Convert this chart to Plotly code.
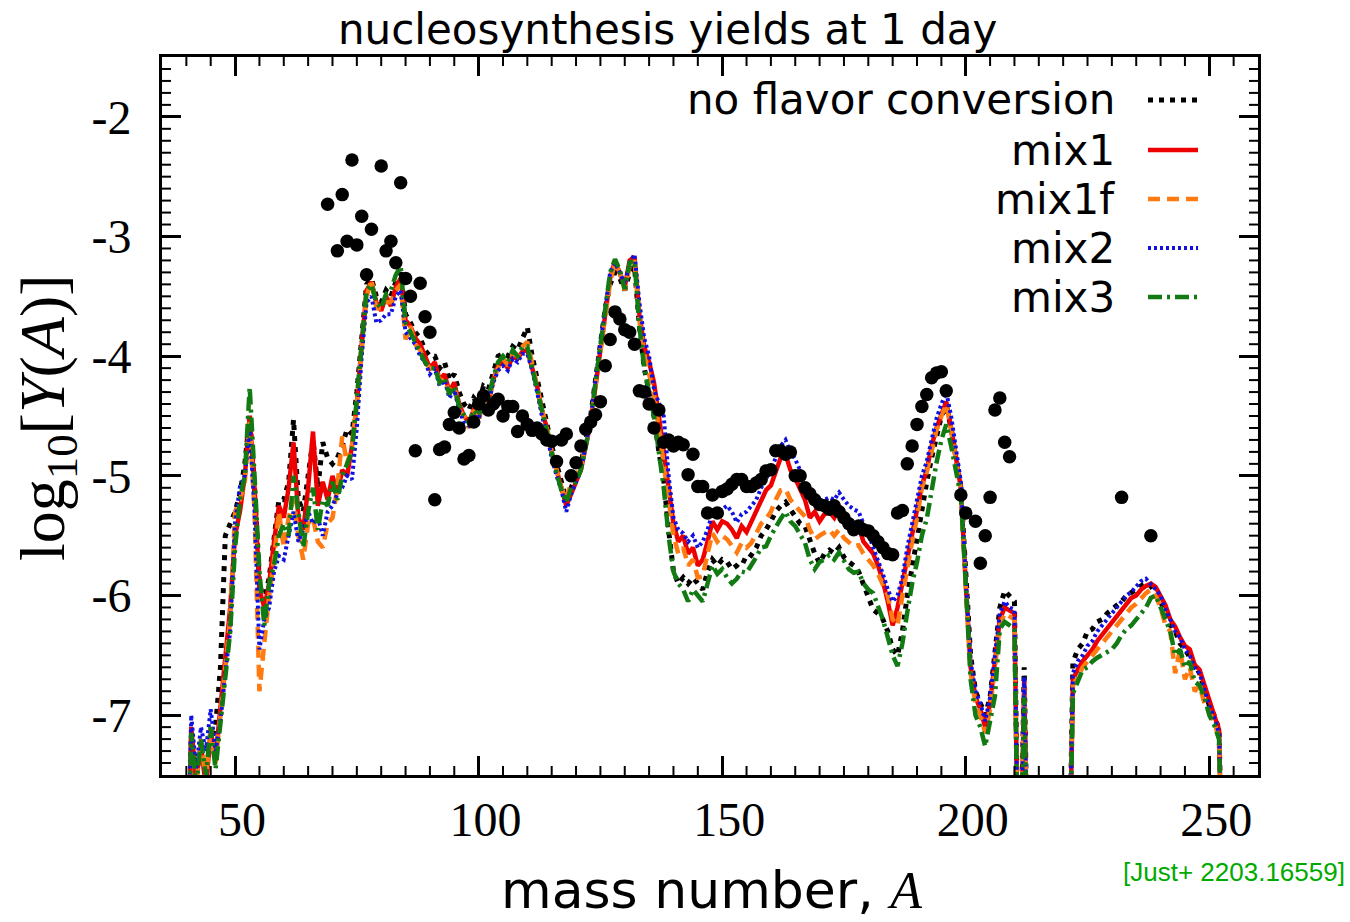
import plotly.graph_objects as go

# ---------------- data ----------------
mass_numbers = list(range(40, 254))

# log10 Y(A); None = gap; -9.0 = off the bottom of the plot
no_flavor = [
    -9.0, -7.2, -7.5, -7.3, -7.5, -7.2, -7.1, -6.6, -5.5, -5.4,
    -5.3, -5.15, -4.9, -4.5, -5.1, -5.9, -6.05, -5.85, -5.5, -5.2,
    -5.2, -5.05, -4.53, -5.2, -5.3, -5.0, -4.7, -5.1, -4.72, -4.85,
    -4.9, -4.85, -4.75, -4.61, -4.65, -4.3, -3.85, -3.4, -3.35, -3.5,
    -3.55, -3.45, -3.5, -3.38, -3.3, -3.65, -3.72, -3.8, -3.85, -3.95,
    -4.0, -4.0, -4.1, -4.05, -4.2, -4.15, -4.3, -4.4, -4.45, -4.35,
    -4.4, -4.25, -4.28, -4.12, -4.0, -3.98, -4.0, -3.92, -3.95, -3.85,
    -3.76, -4.0, -4.2, -4.4, -4.55, -4.75, -4.9, -5.05, -5.2, -5.1,
    -5.0, -4.9, -4.7, -4.5, -4.2, -3.92, -3.6, -3.4, -3.3, -3.35,
    -3.45, -3.3, -3.25, -3.75, -4.1, -4.3, -4.5, -4.8, -5.03, -5.45,
    -5.8, -5.9, -5.85, -5.9, -5.85, -5.9, -5.95, -5.8, -5.7, -5.75,
    -5.7, -5.72, -5.78, -5.75, -5.7, -5.72, -5.65, -5.6, -5.5, -5.45,
    -5.38, -5.3, -5.25, -5.22, -5.28, -5.35, -5.4, -5.42, -5.55, -5.65,
    -5.73, -5.65, -5.62, -5.65, -5.6, -5.68, -5.72, -5.75, -5.8, -5.9,
    -6.0, -6.12, -6.15, -6.2, -6.3, -6.45, -6.5, -6.3, -6.0, -5.75,
    -5.5, -5.25, -5.05, -4.85, -4.65, -4.5, -4.42, -4.6, -4.85, -5.1,
    -5.8, -6.5, -6.8, -6.9, -7.0, -6.85, -6.45, -6.1, -5.96, -6.0,
    -6.05, -9.0, -6.6, -9.0, None, None, None, None, None, None,
    None, -9.0, -6.56, -6.45, -6.4, -6.3, -6.28, -6.22, -6.2, -6.15,
    -6.12, -6.08, -6.05, -6.0, -5.98, -5.95, -5.92, -5.9, -5.92, -5.98,
    -6.05, -6.15, -6.25, -6.3, -6.4, -6.45, -6.52, -6.6, -6.65, -6.78,
    -6.92, -7.0, -7.12, -9.0,
]

mix1 = [
    -9.0, -7.1, -7.55, -7.25, -7.6, -7.15, -7.35, -6.9, -6.5, -6.1,
    -5.5, -5.3, -5.0, -4.5, -5.1, -5.95, -6.1, -5.9, -5.55, -5.25,
    -5.35, -5.1, -4.72, -5.35, -5.45, -5.1, -4.63, -5.25, -5.05, -5.2,
    -5.0, -5.15, -4.95, -5.0, -4.75, -4.4, -3.9, -3.45, -3.38, -3.55,
    -3.62, -3.5, -3.58, -3.42, -3.35, -3.7, -3.75, -3.85, -3.9, -4.0,
    -4.1, -4.05, -4.2, -4.15, -4.3, -4.22, -4.4, -4.5, -4.55, -4.45,
    -4.5, -4.35, -4.38, -4.2, -4.08, -4.05, -4.1, -4.0, -4.02, -3.96,
    -3.95, -4.1, -4.25, -4.45, -4.6, -4.8, -4.95, -5.1, -5.25, -5.15,
    -5.05, -4.95, -4.75, -4.55, -4.25, -3.95, -3.6, -3.35, -3.2, -3.3,
    -3.42, -3.2, -3.17, -3.65, -3.92, -4.05, -4.22, -4.5, -4.8, -5.05,
    -5.4, -5.55, -5.5, -5.65, -5.6, -5.75, -5.7, -5.55, -5.38, -5.45,
    -5.38, -5.4, -5.45, -5.52, -5.42, -5.47, -5.38, -5.3, -5.22, -5.12,
    -5.08, -4.95, -4.85, -4.82, -4.95, -5.02, -5.1, -5.2, -5.35, -5.3,
    -5.38, -5.32, -5.3, -5.35, -5.25, -5.38, -5.4, -5.45, -5.42, -5.55,
    -5.6, -5.65, -5.75, -5.88, -6.05, -6.25, -6.1, -5.9, -5.7, -5.5,
    -5.3, -5.08, -4.95, -4.75, -4.6, -4.48, -4.38, -4.6, -4.85, -5.1,
    -5.9, -6.6, -6.85, -6.95, -7.1, -6.9, -6.55, -6.2, -6.1, -6.12,
    -6.15, -9.0, -6.7, -9.0, None, None, None, None, None, None,
    None, -9.0, -6.7, -6.62, -6.55, -6.5, -6.45, -6.38, -6.33, -6.28,
    -6.22, -6.18, -6.12, -6.08, -6.02, -6.0, -5.95, -5.92, -5.9, -5.93,
    -6.0, -6.08, -6.2, -6.26, -6.35, -6.42, -6.45, -6.58, -6.62, -6.75,
    -6.9, -7.0, -7.12, -9.0,
]

mix1f = [
    -9.0, -7.3, -7.6, -7.2, -7.55, -7.1, -7.4, -7.0, -6.6, -6.2,
    -5.3, -5.2, -5.05, -4.55, -5.3, -6.8, -6.4, -6.0, -5.7, -5.3,
    -5.6, -5.35, -5.2, -5.5, -5.7, -5.4, -5.35, -5.55, -5.6, -5.4,
    -5.35, -5.1, -4.67, -4.9, -4.75, -4.4, -3.95, -3.5, -3.36, -3.6,
    -3.6, -3.55, -3.55, -3.45, -3.4, -3.86, -3.75, -3.9, -3.95, -4.05,
    -4.1, -4.1, -4.2, -4.2, -4.3, -4.25, -4.45, -4.5, -4.6, -4.45,
    -4.55, -4.35, -4.4, -4.2, -4.1, -4.02, -4.08, -3.98, -4.0, -3.92,
    -3.88, -4.05, -4.25, -4.45, -4.6, -4.8, -4.95, -5.1, -5.2, -5.05,
    -5.0, -4.92, -4.75, -4.55, -4.25, -3.95, -3.62, -3.38, -3.22, -3.3,
    -3.45, -3.25, -3.2, -3.7, -3.98, -4.15, -4.32, -4.6, -4.9, -5.15,
    -5.5, -5.65, -5.6, -5.75, -5.7, -5.85, -5.84, -5.65, -5.48, -5.55,
    -5.5, -5.53, -5.58, -5.64, -5.56, -5.6, -5.56, -5.48, -5.4, -5.36,
    -5.3, -5.2, -5.12, -5.11, -5.2, -5.25, -5.3, -5.34, -5.45, -5.53,
    -5.5, -5.48, -5.45, -5.5, -5.45, -5.52, -5.55, -5.59, -5.58, -5.65,
    -5.7, -5.75, -5.82, -5.92, -6.0, -6.2, -6.25, -6.0, -5.75, -5.55,
    -5.35, -5.1, -4.97, -4.78, -4.62, -4.5, -4.4, -4.62, -4.88, -5.12,
    -5.92, -6.65, -6.9, -7.0, -7.15, -6.95, -6.6, -6.25, -6.15, -6.18,
    -6.2, -9.0, -6.75, -9.0, None, None, None, None, None, None,
    None, -9.0, -6.75, -6.68, -6.6, -6.55, -6.5, -6.45, -6.4, -6.35,
    -6.3, -6.25, -6.2, -6.15, -6.1, -6.07, -6.02, -5.98, -5.95, -6.0,
    -6.1, -6.25, -6.3, -6.65, -6.45, -6.7, -6.6, -6.8, -6.75, -6.9,
    -6.98, -7.05, -7.2, -9.0,
]

mix2 = [
    -9.0, -7.0, -7.45, -7.1, -7.3, -6.95, -7.3, -7.05, -6.65, -6.3,
    -5.39, -5.09, -5.0, -4.6, -5.3, -6.45, -6.2, -6.1, -5.8, -5.67,
    -5.7, -5.5, -5.3, -5.55, -5.45, -5.3, -5.4, -5.35, -5.5, -5.3,
    -5.25, -5.15, -5.1, -5.0, -5.03, -4.6, -4.0, -3.55, -3.5, -3.72,
    -3.7, -3.65, -3.65, -3.5, -3.45, -3.8, -3.85, -3.9, -4.0, -4.05,
    -4.15, -4.1, -4.25, -4.2, -4.35, -4.28, -4.45, -4.55, -4.58, -4.5,
    -4.52, -4.4, -4.4, -4.22, -4.12, -4.08, -4.12, -4.02, -4.05, -3.98,
    -3.98, -4.12, -4.3, -4.5, -4.65, -4.85, -5.0, -5.12, -5.3, -5.15,
    -5.05, -4.95, -4.75, -4.52, -4.2, -3.9, -3.55, -3.3, -3.22, -3.3,
    -3.4, -3.22, -3.15, -3.55, -3.85, -4.0, -4.28, -4.4, -4.5, -5.0,
    -5.35, -5.45, -5.48, -5.55, -5.5, -5.6, -5.55, -5.45, -5.31, -5.35,
    -5.28, -5.25, -5.3, -5.39, -5.32, -5.3, -5.25, -5.2, -5.1, -5.03,
    -4.95, -4.85, -4.75, -4.7, -4.8, -4.86, -4.95, -5.05, -5.14, -5.2,
    -5.25, -5.2, -5.18, -5.2, -5.14, -5.2, -5.25, -5.28, -5.3, -5.4,
    -5.48, -5.6, -5.7, -5.82, -5.95, -6.05, -6.0, -5.85, -5.6, -5.4,
    -5.2, -5.0, -4.88, -4.7, -4.52, -4.4, -4.3, -4.5, -4.8, -5.05,
    -5.85, -6.55, -6.8, -6.9, -7.05, -6.85, -6.5, -6.15, -6.05, -6.1,
    -6.12, -9.0, -6.68, -9.0, None, None, None, None, None, None,
    None, -9.0, -6.65, -6.55, -6.5, -6.42, -6.38, -6.3, -6.25, -6.2,
    -6.15, -6.1, -6.05, -6.0, -5.97, -5.93, -5.88, -5.86, -5.9, -5.95,
    -6.0, -6.12, -6.2, -6.3, -6.35, -6.45, -6.5, -6.6, -6.65, -6.78,
    -6.92, -7.02, -7.15, -9.0,
]

mix3 = [
    -9.0, -7.15, -7.6, -7.2, -7.5, -7.1, -7.45, -7.06, -6.7, -6.3,
    -5.6, -5.2, -5.0, -4.26, -5.0, -5.8, -6.25, -5.9, -5.75, -5.5,
    -5.4, -5.5, -5.0, -5.3, -5.6, -5.3, -5.1, -5.45, -5.2, -5.25,
    -5.05, -5.2, -5.0, -4.9, -4.8, -4.35, -3.88, -3.45, -3.4, -3.55,
    -3.6, -3.48, -3.45, -3.32, -3.25, -3.72, -3.8, -3.88, -3.95, -4.05,
    -4.1, -4.1, -4.22, -4.18, -4.32, -4.25, -4.42, -4.5, -4.56, -4.45,
    -4.5, -4.38, -4.35, -4.18, -4.05, -4.0, -4.05, -3.95, -4.0, -3.92,
    -3.92, -4.1, -4.28, -4.48, -4.62, -4.82, -4.98, -5.12, -5.22, -5.1,
    -5.05, -4.95, -4.75, -4.55, -4.22, -3.9, -3.55, -3.3, -3.19, -3.28,
    -3.44, -3.22, -3.2, -3.75, -4.1, -4.3, -4.5, -4.8, -5.1, -5.5,
    -5.8, -5.9, -5.95, -6.05, -5.95, -6.0, -6.05, -5.9, -5.75, -5.82,
    -5.78, -5.85, -5.9, -5.86, -5.8, -5.81, -5.75, -5.68, -5.6, -5.59,
    -5.5, -5.42, -5.36, -5.3, -5.38, -5.42, -5.5, -5.56, -5.7, -5.78,
    -5.72, -5.7, -5.66, -5.7, -5.64, -5.72, -5.78, -5.81, -5.8, -5.9,
    -5.95, -5.98, -6.1, -6.2, -6.35, -6.5, -6.59, -6.4, -6.14, -5.9,
    -5.72, -5.5, -5.36, -5.1, -4.89, -4.7, -4.57, -4.75, -4.95, -5.17,
    -5.9, -6.7, -7.0, -7.1, -7.26, -7.05, -6.84, -6.28, -6.22, -6.25,
    -6.28, -9.0, -6.85, -9.0, None, None, None, None, None, None,
    None, -9.0, -6.82, -6.72, -6.62, -6.6, -6.55, -6.52, -6.5, -6.47,
    -6.45, -6.4, -6.33, -6.28, -6.25, -6.2, -6.15, -6.1, -6.02, -6.0,
    -6.1, -6.2, -6.3, -6.5, -6.45, -6.6, -6.55, -6.72, -6.75, -6.85,
    -7.0, -7.08, -7.2, -9.0,
]

solar_A = [
    69, 71, 72, 73, 74, 75, 76, 77, 78, 80, 81, 82, 83, 84, 85, 86, 87, 88, 89, 90,
    91, 92, 93, 94, 95, 96, 97, 98, 99, 100, 101, 102, 103, 104, 105, 106, 107, 108, 109, 110,
    111, 112, 113, 114, 115, 116, 117, 118, 119, 120, 121, 122, 123, 124, 125, 126, 127, 128, 129, 130,
    131, 132, 133, 134, 135, 136, 137, 138, 139, 140, 141, 142, 143, 144, 145, 146, 147, 148, 149, 150,
    151, 152, 153, 154, 155, 156, 157, 158, 159, 160, 161, 162, 163, 164, 165, 166, 167, 168, 169, 170,
    171, 172, 173, 174, 175, 176, 177, 178, 179, 180, 181, 182, 183, 184, 185, 186, 187, 188, 189, 190,
    191, 192, 193, 194, 195, 196, 199, 200, 202, 203, 204, 205, 206, 207, 208, 209, 232, 238,
]
solar_Y = [
    -2.73, -3.12, -2.65, -3.04, -2.36, -3.07, -2.83, -3.32, -2.94, -2.41, -3.12, -3.04, -3.22, -2.55, -3.35, -3.50, -4.79, -3.39, -3.67, -3.80,
    -5.20, -4.78, -4.76, -4.57, -4.47, -4.60, -4.86, -4.83, -4.55, -4.40, -4.33, -4.45, -4.40, -4.36, -4.50, -4.42, -4.42, -4.63, -4.50, -4.57,
    -4.62, -4.60, -4.65, -4.70, -4.71, -4.88, -4.70, -4.65, -5.00, -4.89, -4.75, -4.61, -4.55, -4.49, -4.38, -4.08, -3.86, -3.63, -3.69, -3.78,
    -3.80, -3.90, -4.29, -4.30, -4.40, -4.60, -4.45, -4.72, -4.70, -4.75, -4.72, -4.74, -4.99, -4.82, -5.09, -5.09, -5.31, -5.16, -5.31, -5.13,
    -5.11, -5.07, -5.03, -5.03, -5.09, -5.09, -5.06, -5.03, -4.96, -4.95, -4.79, -4.79, -4.82, -4.80, -5.00, -5.00, -5.10, -5.15, -5.20, -5.24,
    -5.25, -5.28, -5.25, -5.30, -5.35, -5.40, -5.45, -5.42, -5.45, -5.46, -5.50, -5.55, -5.60, -5.65, -5.66, -5.31, -5.29, -4.90, -4.75, -4.57,
    -4.42, -4.32, -4.18, -4.14, -4.13, -4.29, -5.16, -5.31, -5.38, -5.73, -5.50, -5.18, -4.45, -4.35, -4.72, -4.84, -5.18, -5.50,
]

y_tick_vals = [-7, -6, -5, -4, -3, -2]
y_tick_text = ["-7", "-6", "-5", "-4", "-3", "-2"]

series_names = ["no flavor conversion", "mix1", "mix1f", "mix2", "mix3"]
series_values = [no_flavor, mix1, mix1f, mix2, mix3]
series_colors = ["#000000", "#ee0000", "#ff7a10", "#1010e0", "#127a12"]
series_dash = ["5px,6px", "solid", "12px,7px", "3px,3px", "14px,5px,3px,5px"]
series_width = [5, 4.5, 4.5, 4, 4.5]

# ---------------- layout geometry ----------------
W, H = 1350, 922
L, R, T, B = 162, 92, 57, 147
PW, PH = W - L - R, H - T - B
X_RANGE = [35, 260]
Y_RANGE = [-7.5, -1.5]
MINOR_LEN = 9


def px(x):
    return (x - L) / PW


def py(y):
    return (H - B - y) / PH


fig = go.Figure()

for name, vals, col, dash, lw in zip(series_names, series_values, series_colors, series_dash, series_width):
    fig.add_trace(go.Scatter(
        x=mass_numbers, y=vals, mode="lines", name=name,
        line=dict(color=col, width=lw, dash=dash),
        connectgaps=False, showlegend=False, cliponaxis=True,
    ))

fig.add_trace(go.Scatter(
    x=solar_A, y=solar_Y, mode="markers", name="solar",
    marker=dict(color="black", size=13.5), showlegend=False,
))

axis_common = dict(
    showgrid=False, zeroline=False, showline=True, linecolor="black", linewidth=3,
    mirror="allticks", ticks="inside", ticklen=19, tickwidth=2.5, tickcolor="black",
    tickfont=dict(family="Liberation Serif", size=48, color="black"),
)

fig.update_layout(
    width=W, height=H,
    margin=dict(l=L, r=R, t=T, b=B, pad=0),
    paper_bgcolor="white", plot_bgcolor="white",
    showlegend=False,
    xaxis=dict(
        range=X_RANGE, tickmode="linear", tick0=0, dtick=50,
        ticklabelstandoff=0, ticklabelshift=7,
        **axis_common,
    ),
    yaxis=dict(
        range=Y_RANGE, tickmode="array", tickvals=y_tick_vals, ticktext=y_tick_text,
        ticklabelstandoff=18,
        **axis_common,
    ),
)

shapes = []
# minor ticks (every 5 in A, every 0.1 in log Y), on all four sides, pointing inward
tick_line = dict(color="black", width=2)
for k in range(36, 260):
    if k % 5 == 0 and k % 50 != 0:
        shapes.append(dict(type="line", xref="x", yref="paper", x0=k, x1=k,
                           y0=0, y1=MINOR_LEN / PH, line=tick_line))
        shapes.append(dict(type="line", xref="x", yref="paper", x0=k, x1=k,
                           y0=1, y1=1 - MINOR_LEN / PH, line=tick_line))
for k in range(-74, -15):
    if k % 10 != 0:
        yv = k / 10
        shapes.append(dict(type="line", xref="paper", yref="y", x0=0, x1=MINOR_LEN / PW,
                           y0=yv, y1=yv, line=tick_line))
        shapes.append(dict(type="line", xref="paper", yref="y", x0=1, x1=1 - MINOR_LEN / PW,
                           y0=yv, y1=yv, line=tick_line))

annotations = []
# title
annotations.append(dict(
    text="nucleosynthesis yields at 1 day", xref="paper", yref="paper",
    x=px(667), y=py(30), xanchor="center", yanchor="middle", showarrow=False,
    font=dict(family="DejaVu Sans", size=42, color="black"),
))
# x-axis title
annotations.append(dict(
    text="mass number, <span style=\"font-family:'Liberation Serif'\"><i>A</i></span>",
    xref="paper", yref="paper", x=px(711), y=py(890), xanchor="center", yanchor="middle",
    showarrow=False, font=dict(family="DejaVu Sans", size=52, color="black"),
))
# y-axis title
annotations.append(dict(
    text="log<sub>10</sub>[<i>Y</i>(<i>A</i>)]", xref="paper", yref="paper",
    x=px(47), y=py(418), xanchor="center", yanchor="middle", textangle=-90,
    showarrow=False, font=dict(family="Liberation Serif", size=64, color="black"),
))
# credit
annotations.append(dict(
    text="[Just+ 2203.16559]", xref="paper", yref="paper",
    x=px(1347), y=py(872), xanchor="right", yanchor="middle", showarrow=False,
    font=dict(family="Liberation Sans", size=26, color="rgb(0,170,0)"),
))

# legend (text right-aligned, sample on the right as in the original)
legend_rows_y = [100, 150, 199, 248, 297]
for name, col, dash, lw, ry in zip(series_names, series_colors, series_dash, series_width, legend_rows_y):
    annotations.append(dict(
        text=name, xref="paper", yref="paper", x=px(1117), y=py(ry),
        xanchor="right", yanchor="middle", showarrow=False,
        font=dict(family="DejaVu Sans", size=42, color="black"),
    ))
    shapes.append(dict(
        type="line", xref="paper", yref="paper",
        x0=px(1148), x1=px(1198), y0=py(ry), y1=py(ry),
        line=dict(color=col, width=lw, dash=dash),
    ))

fig.update_layout(annotations=annotations, shapes=shapes)

fig.write_html("out.html")
